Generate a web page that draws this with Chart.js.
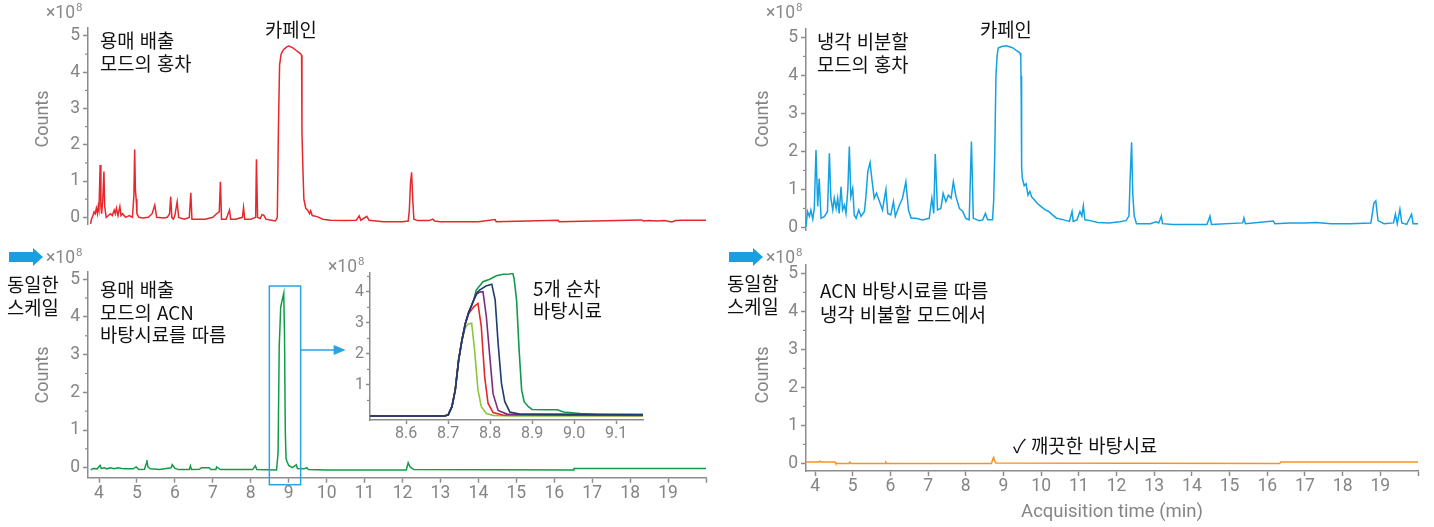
<!DOCTYPE html>
<html lang="ko">
<head>
<meta charset="utf-8">
<title>카페인 크로마토그램</title>
<script src="https://cdn.jsdelivr.net/npm/chart.js@4.4.1/dist/chart.umd.min.js"></script>
<style>
  html, body { margin: 0; padding: 0; background: #fff; }
  #stage { position: relative; width: 1434px; height: 527px; overflow: hidden; }
  #stage canvas { position: absolute; left: 0; top: 0; }
  .note { position: absolute; font-family: "Noto Sans CJK KR", "Noto Sans", sans-serif; font-size: 18.8px;
          line-height: 23px; color: #111; white-space: nowrap; }
  .exp { position: absolute; font-family: Roboto, "Noto Sans", sans-serif; font-size: 17.5px; line-height: 15px;
         color: #8a8a8a; white-space: nowrap; }
  .exp span { font-size: 11.5px; position: relative; top: -7px; margin-left: 1px; }
  .scale-arrow { position: absolute; }
</style>
</head>
<body>
<div id="stage">
  <canvas id="ventTeaChart" width="1434" height="527"></canvas>
  <canvas id="ventBlankChart" width="1434" height="527"></canvas>
  <canvas id="blankRunsChart" width="1434" height="527"></canvas>
  <canvas id="coldTeaChart" width="1434" height="527"></canvas>
  <canvas id="coldBlankChart" width="1434" height="527"></canvas>

  <div class="exp" style="left:46px;top:5px">×10<span>8</span></div>
  <div class="exp" style="left:46px;top:250px">×10<span>8</span></div>
  <div class="exp" style="left:328px;top:259px">×10<span>8</span></div>
  <div class="exp" style="left:766px;top:5px">×10<span>8</span></div>
  <div class="exp" style="left:766px;top:250px">×10<span>8</span></div>

  <svg class="scale-arrow" style="left:9px;top:248px" width="34" height="18"><path d="M0 4 H24 V0 L34 9 L24 18 V14 H0 Z" fill="#1a9ee2"/></svg>
  <svg class="scale-arrow" style="left:729px;top:248px" width="34" height="18"><path d="M0 4 H24 V0 L34 9 L24 18 V14 H0 Z" fill="#1a9ee2"/></svg>

  <div class="note" style="left:100px;top:28px">용매 배출<br>모드의 홍차</div>
  <div class="note" style="left:265px;top:17px">카페인</div>
  <div class="note" style="left:7px;top:273px;line-height:22.5px">동일한<br>스케일</div>
  <div class="note" style="left:100px;top:278px;line-height:22.5px">용매 배출<br>모드의 ACN<br>바탕시료를 따름</div>
  <div class="note" style="left:533px;top:277px;line-height:21.5px">5개 순차<br>바탕시료</div>

  <div class="note" style="left:817px;top:29px">냉각 비분할<br>모드의 홍차</div>
  <div class="note" style="left:980px;top:17px">카페인</div>
  <div class="note" style="left:727px;top:272px;line-height:22.5px">동일함<br>스케일</div>
  <div class="note" style="left:820px;top:278px;line-height:24px">ACN 바탕시료를 따름<br>냉각 비불할 모드에서</div>
  <div class="note" style="left:1013px;top:433px">✓ 깨끗한 바탕시료</div>
</div>

<script>
// ---- Chromatogram data: [retention time (min), counts (×10^8)] ----

// Tea, solvent-vent mode
const ventTea = [[3.78,-0.18],[3.80,-0.05],[3.84,0.05],[3.87,0.15],[3.90,0.10],[3.93,0.25],[3.96,0.10],[3.98,0.30],[4.00,0.20],[4.03,1.44],[4.05,0.30],[4.07,0.10],[4.10,0.50],[4.13,1.26],[4.15,0.30],[4.19,0.00],[4.25,0.05],[4.30,0.10],[4.35,0.05],[4.40,0.20],[4.43,0.10],[4.46,0.25],[4.50,0.05],[4.55,0.30],[4.58,0.05],[4.62,0.10],[4.70,0.00],[4.80,0.05],[4.88,0.00],[4.92,0.60],[4.94,1.87],[4.96,0.75],[4.98,0.50],[5.00,0.10],[5.05,0.00],[5.15,-0.02],[5.30,0.00],[5.40,0.10],[5.47,0.34],[5.52,0.00],[5.70,-0.02],[5.80,0.00],[5.86,0.10],[5.89,0.57],[5.92,0.00],[5.96,-0.05],[6.00,0.05],[6.06,0.43],[6.10,0.00],[6.25,-0.05],[6.38,0.00],[6.42,0.68],[6.45,-0.05],[6.60,-0.05],[6.80,-0.05],[7.00,0.00],[7.10,0.10],[7.17,0.15],[7.20,0.98],[7.23,-0.05],[7.35,-0.05],[7.44,0.20],[7.47,-0.05],[7.60,-0.05],[7.78,0.00],[7.81,0.27],[7.84,-0.05],[8.00,-0.05],[8.13,0.00],[8.15,1.60],[8.18,0.00],[8.25,-0.03],[8.30,0.08],[8.35,0.05],[8.40,-0.05],[8.55,-0.08],[8.65,-0.10],[8.70,0.00],[8.73,2.50],[8.76,4.20],[8.80,4.50],[8.86,4.62],[8.95,4.70],[9.00,4.72],[9.10,4.68],[9.20,4.60],[9.30,4.52],[9.34,4.47],[9.35,2.35],[9.37,1.50],[9.40,0.50],[9.45,0.25],[9.50,0.20],[9.55,0.10],[9.58,0.18],[9.62,0.05],[9.75,0.02],[9.90,-0.05],[10.10,-0.08],[10.50,-0.09],[10.78,-0.08],[10.86,0.04],[10.90,-0.08],[11.06,0.03],[11.12,-0.08],[11.50,-0.12],[12.00,-0.12],[12.15,-0.10],[12.18,0.20],[12.21,0.94],[12.24,1.24],[12.27,0.50],[12.30,-0.05],[12.40,-0.09],[12.70,-0.09],[12.80,-0.05],[12.85,-0.10],[13.00,-0.12],[14.00,-0.12],[14.44,-0.06],[14.47,-0.12],[16.10,-0.08],[16.13,-0.12],[18.30,-0.07],[18.35,-0.10],[18.50,-0.09],[18.70,-0.10],[18.90,-0.09],[19.10,-0.13],[19.20,-0.09],[19.40,-0.08],[20.00,-0.08]];

// ACN blank run after the tea, solvent-vent mode
const ventBlank = [[3.78,-0.06],[3.85,-0.02],[3.95,-0.03],[4.03,0.06],[4.06,-0.02],[4.15,0.00],[4.20,-0.03],[4.30,0.00],[4.40,-0.03],[4.50,0.00],[4.60,-0.02],[4.70,-0.03],[4.90,-0.03],[4.98,0.02],[5.05,-0.05],[5.20,-0.04],[5.24,0.10],[5.26,0.20],[5.29,0.02],[5.35,-0.03],[5.60,-0.05],[5.90,0.00],[5.93,0.08],[6.00,-0.02],[6.10,-0.05],[6.38,-0.05],[6.41,0.05],[6.44,-0.05],[6.65,-0.04],[6.70,0.00],[6.90,0.00],[6.95,-0.05],[7.08,-0.05],[7.10,0.02],[7.20,-0.05],[8.05,-0.05],[8.12,0.05],[8.16,-0.05],[8.68,-0.06],[8.72,0.40],[8.75,3.20],[8.79,4.27],[8.84,4.50],[8.87,4.63],[8.89,3.50],[8.91,1.00],[8.93,0.25],[8.96,0.15],[9.00,0.06],[9.10,0.00],[9.20,0.08],[9.23,-0.02],[9.40,-0.03],[9.48,0.00],[9.52,-0.05],[10.00,-0.06],[12.10,-0.06],[12.15,0.13],[12.20,0.02],[12.30,-0.05],[16.50,-0.06],[16.52,-0.02],[20.00,-0.02]];

// Five sequential ACN blanks around the caffeine window
const blankRun1 = [[8.514,0],[8.690,0],[8.700,0.03],[8.709,0.30],[8.717,0.84],[8.725,1.80],[8.733,2.45],[8.741,2.85],[8.748,2.97],[8.756,2.99],[8.763,2.13],[8.771,0.84],[8.779,0.30],[8.791,0.08],[8.807,0.02],[8.850,0],[9.164,0]];
const blankRun2 = [[8.514,0],[8.690,0],[8.700,0.03],[8.709,0.30],[8.717,0.84],[8.725,1.80],[8.733,2.45],[8.741,2.98],[8.749,3.30],[8.761,3.52],[8.771,3.63],[8.779,2.88],[8.787,1.27],[8.795,0.41],[8.807,0.11],[8.830,0.03],[9.164,0.02]];
const blankRun3 = [[8.514,0],[8.690,0],[8.700,0.03],[8.709,0.30],[8.717,0.84],[8.725,1.80],[8.733,2.45],[8.741,2.98],[8.749,3.34],[8.757,3.60],[8.761,3.74],[8.768,3.93],[8.776,4.00],[8.783,4.01],[8.791,3.20],[8.800,1.80],[8.807,0.72],[8.819,0.18],[8.840,0.06],[9.164,0.03]];
const blankRun4 = [[8.514,0],[8.690,0],[8.700,0.03],[8.709,0.30],[8.717,0.84],[8.725,1.80],[8.733,2.45],[8.741,2.98],[8.749,3.34],[8.757,3.60],[8.761,3.74],[8.768,3.96],[8.774,4.05],[8.790,4.19],[8.804,4.25],[8.812,3.74],[8.819,2.35],[8.827,1.05],[8.835,0.46],[8.847,0.13],[8.870,0.06],[9.164,0.04]];
const blankRun5 = [[8.514,0],[8.690,0],[8.700,0.03],[8.709,0.30],[8.717,0.84],[8.725,1.80],[8.733,2.45],[8.741,2.98],[8.749,3.34],[8.757,3.60],[8.761,3.74],[8.767,4.06],[8.783,4.33],[8.799,4.41],[8.815,4.52],[8.831,4.57],[8.847,4.58],[8.854,4.60],[8.857,4.44],[8.863,3.74],[8.869,2.13],[8.875,0.84],[8.881,0.46],[8.891,0.30],[8.900,0.21],[8.930,0.20],[8.960,0.20],[8.975,0.13],[9.014,0.08],[9.054,0.05],[9.164,0.05]];

// Tea, cold splitless mode
const coldTea = [[3.76,0.02],[3.80,0.42],[3.85,0.29],[3.89,0.46],[3.94,0.22],[3.98,0.50],[4.025,2.04],[4.07,0.55],[4.11,1.29],[4.16,0.24],[4.25,0.29],[4.33,0.42],[4.38,1.95],[4.42,0.77],[4.47,0.46],[4.51,0.77],[4.56,0.50],[4.60,0.77],[4.64,0.37],[4.69,1.07],[4.73,0.46],[4.78,0.59],[4.82,0.37],[4.87,0.99],[4.91,2.13],[4.95,0.81],[5.00,1.03],[5.04,0.33],[5.09,0.24],[5.16,0.46],[5.22,0.29],[5.31,0.42],[5.35,0.81],[5.40,1.47],[5.46,1.71],[5.51,1.25],[5.57,0.77],[5.63,0.90],[5.71,0.68],[5.79,0.46],[5.88,1.00],[5.93,0.37],[6.01,0.33],[6.08,0.68],[6.13,0.29],[6.24,0.59],[6.32,0.77],[6.41,1.20],[6.48,0.46],[6.55,0.24],[6.68,0.24],[6.85,0.20],[7.03,0.24],[7.10,0.77],[7.15,0.37],[7.19,1.93],[7.25,0.46],[7.34,0.50],[7.40,0.90],[7.47,0.68],[7.54,0.85],[7.61,0.77],[7.67,1.20],[7.74,0.81],[7.83,0.50],[7.92,0.42],[8.00,0.24],[8.09,0.20],[8.15,2.26],[8.20,0.24],[8.36,0.18],[8.45,0.20],[8.52,0.37],[8.58,0.20],[8.71,0.20],[8.74,0.70],[8.77,2.00],[8.80,3.97],[8.83,4.50],[8.86,4.72],[8.95,4.76],[9.08,4.78],[9.20,4.74],[9.26,4.72],[9.35,4.65],[9.44,4.59],[9.46,4.50],[9.47,3.50],[9.475,3.99],[9.48,3.36],[9.49,1.60],[9.50,1.30],[9.55,1.10],[9.60,1.15],[9.65,0.85],[9.70,0.95],[9.75,0.80],[9.80,0.75],[9.90,0.63],[10.00,0.55],[10.10,0.47],[10.20,0.42],[10.30,0.33],[10.40,0.25],[10.50,0.22],[10.60,0.20],[10.75,0.16],[10.82,0.42],[10.85,0.16],[10.95,0.20],[11.03,0.42],[11.08,0.30],[11.12,0.57],[11.16,0.20],[11.30,0.18],[11.50,0.13],[11.80,0.12],[12.09,0.15],[12.25,0.18],[12.33,0.30],[12.36,1.25],[12.40,2.24],[12.43,0.90],[12.47,0.30],[12.53,0.10],[12.90,0.10],[13.05,0.15],[13.12,0.12],[13.19,0.30],[13.22,0.10],[13.50,0.08],[14.40,0.08],[14.48,0.30],[14.52,0.08],[15.35,0.12],[15.38,0.25],[15.42,0.10],[16.16,0.17],[16.20,0.10],[16.60,0.12],[17.00,0.12],[17.30,0.13],[17.70,0.10],[18.20,0.10],[18.75,0.12],[18.83,0.64],[18.88,0.70],[18.94,0.18],[19.10,0.10],[19.35,0.12],[19.40,0.35],[19.45,0.10],[19.52,0.48],[19.57,0.12],[19.70,0.08],[19.83,0.35],[19.87,0.10],[20.00,0.10]];

// ACN blank run after the tea, cold splitless mode
const coldBlank = [[3.77,0.04],[4.10,0.04],[4.13,0.06],[4.16,0.04],[4.53,0.04],[4.55,0.00],[4.90,0.00],[4.92,0.03],[4.95,0.00],[5.86,0.00],[5.88,0.03],[5.90,0.00],[8.68,0.00],[8.72,0.12],[8.74,0.16],[8.76,0.08],[8.80,0.01],[16.33,0.00],[16.36,0.035],[20.00,0.035]];

// ---- Tick values ----
const timeTicks = [4,5,6,7,8,9,10,11,12,13,14,15,16,17,18,19,20];
const countTicks = [0,1,2,3,4,5];
const countMinorTicks = [0.5,1.5,2.5,3.5,4.5];
const insetTimeTicks = [8.6,8.7,8.8,8.9,9.0,9.1];
const insetCountTicks = [1,2,3,4];
const insetCountMinorTicks = [0.5,1.5,2.5,3.5,4.5];

// Zoom window (min) marked on the vent-mode blank and expanded in the inset
const zoomWindow = [8.49, 9.315];

// ---- Drawing ----
const W = 1434, H = 527;
const AXIS = '#8c8c8c';
const LABEL = '#858585';
Chart.defaults.font.family = 'Roboto, "Noto Sans", sans-serif';

// Short half-step ticks on the count axis
const minorTicksPlugin = {
  id: 'minorTicks',
  afterDraw(chart, args, opts) {
    const y = chart.scales.y;
    const ctx = chart.ctx;
    ctx.save();
    ctx.strokeStyle = AXIS;
    ctx.lineWidth = 1.2;
    for (const v of opts.values || []) {
      const py = y.getPixelForValue(v);
      ctx.beginPath();
      ctx.moveTo(y.right - opts.len, py);
      ctx.lineTo(y.right, py);
      ctx.stroke();
    }
    ctx.restore();
  }
};

// Rotated "Counts" title placed beside the count axis
const countTitlePlugin = {
  id: 'countTitle',
  afterDraw(chart, args, opts) {
    if (!opts.text) return;
    const ctx = chart.ctx;
    ctx.save();
    ctx.translate(opts.x, opts.y);
    ctx.rotate(-Math.PI / 2);
    ctx.fillStyle = LABEL;
    ctx.font = '18px Roboto, "Noto Sans", sans-serif';
    ctx.textAlign = 'center';
    ctx.textBaseline = 'middle';
    ctx.fillText(opts.text, 0, 0);
    ctx.restore();
  }
};

// Zoom window box and the arrow pointing at the inset
const zoomBoxPlugin = {
  id: 'zoomBox',
  afterDraw(chart) {
    const { x, y } = chart.scales;
    const ctx = chart.ctx;
    const l = x.getPixelForValue(zoomWindow[0]);
    const r = x.getPixelForValue(zoomWindow[1]);
    const t = y.getPixelForValue(4.82);
    const b = chart.chartArea.bottom + 7;
    ctx.save();
    ctx.strokeStyle = '#29a3e2';
    ctx.fillStyle = '#29a3e2';
    ctx.lineWidth = 1.5;
    ctx.strokeRect(l, t, r - l, b - t);
    const ay = y.getPixelForValue(3.12);
    ctx.beginPath();
    ctx.moveTo(r, ay);
    ctx.lineTo(r + 35, ay);
    ctx.stroke();
    ctx.beginPath();
    ctx.moveTo(r + 45, ay);
    ctx.lineTo(r + 33, ay - 5);
    ctx.lineTo(r + 33, ay + 5);
    ctx.closePath();
    ctx.fill();
    ctx.restore();
  }
};

function panel(canvasId, p) {
  const xH = p.showX ? p.xAxisHeight : 0;
  return new Chart(document.getElementById(canvasId), {
    type: 'line',
    data: {
      datasets: p.series.map(s => ({
        data: s.points.map(([t, c]) => ({ x: t, y: c })),
        borderColor: s.color,
        borderWidth: s.width || 1.5,
        pointRadius: 0,
        tension: 0,
        fill: false
      }))
    },
    options: {
      responsive: false,
      animation: false,
      events: [],
      layout: {
        padding: {
          left: p.area.left - p.yAxisWidth,
          top: p.area.top,
          right: W - p.area.right,
          bottom: H - p.area.bottom - xH
        }
      },
      plugins: {
        legend: { display: false },
        tooltip: { enabled: false },
        minorTicks: { values: p.minor, len: p.minorLen },
        countTitle: p.yTitle || {}
      },
      scales: {
        x: {
          type: 'linear',
          min: p.xMin, max: p.xMax,
          display: p.showX,
          afterFit: s => { if (p.showX) s.height = p.xAxisHeight; },
          afterBuildTicks: s => { s.ticks = p.xTicks.map(v => ({ value: v })); },
          grid: { drawOnChartArea: false, drawTicks: true, tickLength: p.tickLen, tickColor: AXIS, tickWidth: 1.5 },
          border: { display: true, color: AXIS, width: 1.5 },
          ticks: { color: LABEL, font: { size: p.fontSize }, padding: p.xPad, maxRotation: 0, autoSkip: false,
                   callback: p.xLabel },
          title: p.xTitle ? { display: true, text: p.xTitle, color: LABEL, font: { size: 18.5 }, padding: 0 } : { display: false }
        },
        y: {
          min: p.yMin, max: p.yMax,
          afterFit: s => { s.width = p.yAxisWidth; },
          afterBuildTicks: s => { s.ticks = p.yTicks.map(v => ({ value: v })); },
          grid: { drawOnChartArea: false, drawTicks: true, tickLength: p.tickLen, tickColor: AXIS, tickWidth: 1.5 },
          border: { display: true, color: AXIS, width: 1.5 },
          ticks: { color: LABEL, font: { size: p.fontSize }, padding: p.yPad, autoSkip: false, callback: v => String(v) }
        }
      }
    },
    plugins: [minorTicksPlugin, countTitlePlugin].concat(p.extra || [])
  });
}

const mainAxes = {
  xTicks: timeTicks, yTicks: countTicks, minor: countMinorTicks, minorLen: 3,
  tickLen: 5, fontSize: 17.5, xPad: 0.5, yPad: 3,
  xLabel: v => (v === 20 ? '' : String(v)), xMax: 20
};

panel('ventTeaChart', Object.assign({}, mainAxes, {
  area: { left: 88, right: 706, top: 28, bottom: 224.6 },
  yAxisWidth: 55.2, showX: false, xAxisHeight: 0,
  xMin: 3.71, yMin: -0.2, yMax: 5.22,
  yTitle: { text: 'Counts', x: 43, y: 119 },
  series: [{ points: ventTea, color: '#e8262b' }]
}));

panel('ventBlankChart', Object.assign({}, mainAxes, {
  area: { left: 88, right: 706, top: 271.7, bottom: 477.7 },
  yAxisWidth: 55.2, showX: true, xAxisHeight: 30,
  xMin: 3.71, yMin: -0.265, yMax: 5.2,
  yTitle: { text: 'Counts', x: 43, y: 375 },
  series: [{ points: ventBlank, color: '#109c47' }],
  extra: [zoomBoxPlugin]
}));

panel('blankRunsChart', {
  area: { left: 370, right: 643, top: 273, bottom: 420 },
  yAxisWidth: 30, showX: true, xAxisHeight: 25,
  xMin: 8.514, xMax: 9.164, yMin: -0.13, yMax: 4.61,
  xTicks: insetTimeTicks, yTicks: insetCountTicks, minor: insetCountMinorTicks, minorLen: 3,
  tickLen: 4, fontSize: 16, xPad: 0, yPad: 2,
  xLabel: v => v.toFixed(1),
  series: [
    { points: blankRun4, color: '#1f3b6f', width: 1.6 },
    { points: blankRun3, color: '#7d2a83', width: 1.6 },
    { points: blankRun5, color: '#0f9b4a', width: 1.6 },
    { points: blankRun2, color: '#e5262b', width: 1.6 },
    { points: blankRun1, color: '#8cc63f', width: 1.6 }
  ]
});

panel('coldTeaChart', Object.assign({}, mainAxes, {
  area: { left: 806, right: 1418, top: 28.3, bottom: 230.5 },
  yAxisWidth: 53.2, showX: false, xAxisHeight: 0,
  xMin: 3.76, yMin: -0.08, yMax: 5.24,
  yTitle: { text: 'Counts', x: 763, y: 119 },
  series: [{ points: coldTea, color: '#14a1e1' }]
}));

panel('coldBlankChart', Object.assign({}, mainAxes, {
  area: { left: 806, right: 1418, top: 265, bottom: 471 },
  yAxisWidth: 53.2, showX: true, xAxisHeight: 52.8,
  xMin: 3.76, yMin: -0.2, yMax: 5.22,
  xTitle: 'Acquisition time (min)',
  yTitle: { text: 'Counts', x: 763, y: 375 },
  series: [{ points: coldBlank, color: '#f7931e' }]
}));
</script>
</body>
</html>
